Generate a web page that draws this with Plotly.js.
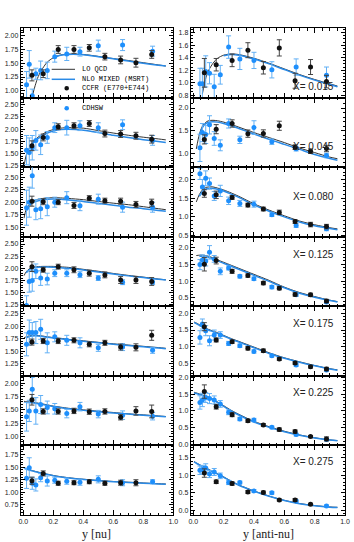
<!DOCTYPE html>
<html>
<head>
<meta charset="utf-8">
<script src="https://cdn.plot.ly/plotly-3.0.1.min.js"></script>
<style>
  html, body { margin: 0; padding: 0; background: #fff; }
  #chart { width: 354px; height: 542px; }
</style>
</head>
<body>
<div id="chart"></div>
<script>
    // x bins (one row of panels each)
    var xBins = ['0.015', '0.045', '0.080', '0.125', '0.175', '0.225', '0.275'];

    // y positions of the points
    var yNuCcfr = [0.058, 0.133, 0.233, 0.338, 0.44, 0.544, 0.649, 0.751, 0.856];
    var yNuCdhsw = [0.022, 0.04, 0.06, 0.084, 0.116, 0.16, 0.21, 0.29, 0.378, 0.5, 0.662, 0.862];
    var yAnuCcfr = [0.073, 0.151, 0.256, 0.36, 0.462, 0.567, 0.671, 0.773, 0.878];
    var yAnuCdhsw = [0.044, 0.06, 0.082, 0.107, 0.138, 0.178, 0.233, 0.307, 0.4, 0.518, 0.678, 0.878];
    var yCurve = [0.005, 0.02, 0.04, 0.06, 0.08, 0.1, 0.13, 0.16, 0.2, 0.25, 0.3, 0.4, 0.5, 0.6, 0.7, 0.8, 0.9, 0.95];

    // neutrino (left column)
    var nuCcfr1 = [1.28, 1.31, 1.75, 1.75, 1.78, 1.62, 1.56, 1.51, 1.66];
    var nuCcfrErr1 = [0.1, 0.07, 0.07, 0.07, 0.06, 0.06, 0.07, 0.08, 0.07];
    var nuCdhsw1 = [1.11, 1.48, 0.91, 1.31, 1.37, 1.37, 1.62, 1.67, 1.71, 1.82, 1.83, 1.72];
    var nuCdhswErr1 = [0.24, 0.25, 0.12, 0.1, 0.17, 0.15, 0.1, 0.12, 0.08, 0.1, 0.1, 0.09];
    var nuLo1 = [null, null, null, 0.9, 1.1, 1.26, 1.41, 1.52, 1.6, 1.65, 1.665, 1.66, 1.625, 1.585, 1.55, 1.51, 1.47, 1.45];
    var nuNlo1 = [null, null, null, null, null, null, null, null, 1.6, 1.645, 1.66, 1.655, 1.62, 1.58, 1.54, 1.5, 1.465, 1.45];

    var nuCcfr2 = [1.66, 1.83, 2.05, 2.07, 2.115, 1.91, 1.9, 1.865, 1.795];
    var nuCcfrErr2 = [0.1, 0.07, 0.06, 0.06, 0.06, 0.07, 0.07, 0.07, 0.08];
    var nuCdhsw2 = [1.57, 1.52, 1.62, 1.77, 1.68, 1.83, 2.03, 2.03, 2.07, 2.03, 2.09, 1.77];
    var nuCdhswErr2 = [0.3, 0.3, 0.25, 0.2, 0.2, 0.12, 0.1, 0.15, 0.1, 0.1, 0.1, 0.1];
    var nuLo2 = [1.25, 1.47, 1.61, 1.71, 1.78, 1.84, 1.9, 1.95, 1.99, 2.02, 2.03, 2.02, 1.97, 1.92, 1.875, 1.835, 1.8, 1.78];
    var nuNlo2 = [null, null, 1.6, 1.69, 1.76, 1.81, 1.87, 1.92, 1.96, 1.99, 1.995, 1.975, 1.93, 1.875, 1.83, 1.785, 1.745, 1.725];

    var nuCcfr3 = [2.02, 2.01, 2.0, 1.935, 2.08, 2.03, 2.02, 1.955, 1.99];
    var nuCcfrErr3 = [0.1, 0.06, 0.05, 0.06, 0.05, 0.05, 0.06, 0.06, 0.07];
    var nuCdhsw3 = [1.89, 2.0, 2.53, 1.85, 1.87, 1.91, 2.0, 2.09, 1.93, 2.06, 1.9, 1.9];
    var nuCdhswErr3 = [0.35, 0.3, 0.25, 0.2, 0.2, 0.18, 0.1, 0.12, 0.1, 0.1, 0.1, 0.1];
    var nuLo3 = [1.68, 1.86, 1.95, 2.0, 2.04, 2.06, 2.075, 2.085, 2.09, 2.085, 2.075, 2.05, 2.015, 1.98, 1.95, 1.91, 1.87, 1.85];
    var nuNlo3 = [null, 1.82, 1.92, 1.98, 2.01, 2.03, 2.05, 2.06, 2.065, 2.06, 2.045, 2.015, 1.975, 1.94, 1.9, 1.87, 1.835, 1.82];

    var nuCcfr4 = [2.035, 1.97, 2.035, 1.97, 1.9, 1.865, 1.76, 1.76, 1.73];
    var nuCcfrErr4 = [0.1, 0.05, 0.05, 0.06, 0.06, 0.06, 0.07, 0.07, 0.08];
    var nuCdhsw4 = [1.236, 1.73, 1.75, 1.94, 1.8, 1.78, 1.9, 1.9, 1.87, 1.8, 1.715, 1.72];
    var nuCdhswErr4 = [0.2, 0.22, 0.22, 0.15, 0.15, 0.12, 0.07, 0.07, 0.06, 0.05, 0.05, 0.05];
    var nuLo4 = [1.85, 1.93, 1.99, 2.02, 2.03, 2.035, 2.04, 2.04, 2.04, 2.03, 2.02, 1.98, 1.94, 1.895, 1.855, 1.82, 1.78, 1.765];
    var nuNlo4 = [null, 1.91, 1.97, 2.0, 2.015, 2.02, 2.025, 2.025, 2.02, 2.01, 2.0, 1.965, 1.925, 1.885, 1.845, 1.81, 1.775, 1.76];

    var nuCcfr5 = [1.685, 1.705, 1.705, 1.72, 1.64, 1.67, 1.585, 1.58, 1.82];
    var nuCcfrErr5 = [0.06, 0.05, 0.05, 0.05, 0.05, 0.05, 0.06, 0.07, 0.1];
    var nuCdhsw5 = [1.64, 1.875, 1.875, 1.875, 1.94, 1.67, 1.79, 1.72, 1.67, 1.57, 1.585, 1.52];
    var nuCdhswErr5 = [0.23, 0.25, 0.2, 0.22, 0.2, 0.2, 0.1, 0.1, 0.1, 0.07, 0.07, 0.06];
    var nuLo5 = [1.77, 1.79, 1.81, 1.82, 1.82, 1.815, 1.805, 1.79, 1.775, 1.76, 1.74, 1.71, 1.68, 1.65, 1.625, 1.6, 1.575, 1.56];
    var nuNlo5 = [null, 1.77, 1.795, 1.805, 1.81, 1.805, 1.795, 1.78, 1.765, 1.75, 1.73, 1.7, 1.67, 1.64, 1.615, 1.59, 1.565, 1.55];

    var nuCcfr6 = [1.69, 1.47, 1.47, 1.48, 1.465, 1.47, 1.36, 1.48, 1.47];
    var nuCcfrErr6 = [0.1, 0.05, 0.05, 0.05, 0.05, 0.05, 0.05, 0.08, 0.12];
    var nuCdhsw6 = [1.37, 1.48, 1.89, 1.48, 1.6, 1.545, 1.52, 1.43, 1.56, 1.42, 1.4, 1.38];
    var nuCdhswErr6 = [0.27, 0.2, 0.22, 0.25, 0.17, 0.12, 0.1, 0.08, 0.08, 0.07, 0.08, 0.07];
    var nuLo6 = [1.66, 1.655, 1.65, 1.645, 1.635, 1.625, 1.61, 1.595, 1.57, 1.55, 1.53, 1.5, 1.475, 1.45, 1.425, 1.405, 1.385, 1.375];
    var nuNlo6 = [null, 1.64, 1.64, 1.635, 1.625, 1.615, 1.6, 1.585, 1.565, 1.54, 1.52, 1.49, 1.465, 1.44, 1.42, 1.4, 1.38, 1.37];

    var nuCcfr7 = [1.23, 1.375, 1.18, 1.19, 1.21, 1.18, 1.19, 1.19, null];
    var nuCcfrErr7 = [0.07, 0.05, 0.04, 0.04, 0.04, 0.04, 0.05, 0.06, 0];
    var nuCdhsw7 = [1.277, 1.485, 1.18, 1.146, 1.29, 1.224, 1.24, 1.22, 1.2, 1.257, 1.19, 1.21];
    var nuCdhswErr7 = [0.2, 0.2, 0.12, 0.12, 0.08, 0.1, 0.06, 0.06, 0.06, 0.07, 0.06, 0.04];
    var nuLo7 = [1.49, 1.47, 1.45, 1.43, 1.415, 1.4, 1.38, 1.36, 1.335, 1.31, 1.29, 1.26, 1.235, 1.215, 1.2, 1.185, 1.17, 1.165];
    var nuNlo7 = [1.48, 1.46, 1.44, 1.425, 1.41, 1.395, 1.375, 1.355, 1.33, 1.305, 1.285, 1.255, 1.23, 1.21, 1.195, 1.18, 1.165, 1.16];

    // anti-neutrino (right column)
    var anuCcfr1 = [1.157, 1.287, 1.356, 1.52, 1.238, 1.557, 1.03, 1.25, 1.016];
    var anuCcfrErr1 = [0.23, 0.1, 0.1, 0.12, 0.1, 0.13, 0.12, 0.12, 0.1];
    var anuCdhsw1 = [0.98, 0.98, 1.18, 1.15, 0.933, 1.126, 1.57, 1.38, 1.356, 1.205, 1.25, 1.12];
    var anuCdhswErr1 = [0.25, 0.25, 0.25, 0.17, 0.2, 0.15, 0.18, 0.17, 0.13, 0.13, 0.13, 0.13];
    var anuLo1 = [null, null, null, 0.82, 1.05, 1.19, 1.31, 1.39, 1.44, 1.46, 1.45, 1.39, 1.31, 1.22, 1.13, 1.05, 0.98, 0.945];
    var anuNlo1 = [null, null, null, null, null, null, null, null, 1.43, 1.45, 1.44, 1.38, 1.3, 1.21, 1.12, 1.04, 0.97, 0.935];

    var anuCcfr2 = [1.31, 1.535, 1.66, 1.437, 1.44, 1.61, 1.14, 1.05, 1.11];
    var anuCcfrErr2 = [0.1, 0.1, 0.08, 0.08, 0.08, 0.1, 0.05, 0.05, 0.07];
    var anuCdhsw2 = [1.125, 1.46, 1.42, 1.63, 1.33, 1.18, 1.66, 1.3, 1.57, 1.26, 1.105, 0.956];
    var anuCdhswErr2 = [0.3, 0.2, 0.2, 0.2, 0.15, 0.12, 0.1, 0.08, 0.15, 0.06, 0.05, 0.05];
    var anuLo2 = [null, 1.1, 1.42, 1.6, 1.68, 1.72, 1.73, 1.72, 1.69, 1.64, 1.58, 1.46, 1.35, 1.24, 1.12, 1.02, 0.92, 0.885];
    var anuNlo2 = [null, null, 1.4, 1.57, 1.65, 1.69, 1.7, 1.69, 1.66, 1.61, 1.55, 1.43, 1.31, 1.2, 1.09, 0.98, 0.89, 0.85];

    var anuCcfr3 = [1.625, 1.59, 1.52, 1.315, 1.21, 1.12, 0.875, 0.795, 0.74];
    var anuCcfrErr3 = [0.1, 0.1, 0.05, 0.05, 0.05, 0.06, 0.05, 0.06, 0.06];
    var anuCdhsw3 = [2.15, 1.8, 2.03, 1.89, 1.56, 1.695, 1.43, 1.36, 1.34, 1.06, 0.77, 0.68];
    var anuCdhswErr3 = [0.15, 0.2, 0.2, 0.15, 0.12, 0.15, 0.1, 0.08, 0.08, 0.05, 0.05, 0.05];
    var anuLo3 = [null, 1.4, 1.6, 1.72, 1.78, 1.8, 1.8, 1.77, 1.72, 1.64, 1.55, 1.35, 1.18, 1.03, 0.89, 0.79, 0.71, 0.68];
    var anuNlo3 = [null, null, 1.55, 1.68, 1.74, 1.76, 1.76, 1.74, 1.69, 1.61, 1.52, 1.32, 1.15, 1.0, 0.865, 0.765, 0.69, 0.655];

    var anuCcfr4 = [1.5, 1.61, 1.29, 1.165, 0.94, 0.79, 0.604, 0.59, 0.406];
    var anuCcfrErr4 = [0.2, 0.1, 0.06, 0.05, 0.05, 0.05, 0.05, 0.05, 0.05];
    var anuCdhsw4 = [1.49, 1.63, 1.6, 1.855, 1.66, 1.29, 1.39, 1.14, 1.07, 0.82, 0.595, 0.376];
    var anuCdhswErr4 = [0.15, 0.15, 0.15, 0.2, 0.1, 0.1, 0.06, 0.05, 0.05, 0.05, 0.05, 0.04];
    var anuLo4 = [null, 1.76, 1.77, 1.77, 1.76, 1.74, 1.69, 1.63, 1.56, 1.47, 1.38, 1.2, 1.02, 0.82, 0.66, 0.54, 0.43, 0.39];
    var anuNlo4 = [null, null, 1.74, 1.74, 1.73, 1.71, 1.66, 1.6, 1.53, 1.44, 1.35, 1.17, 0.99, 0.8, 0.64, 0.52, 0.42, 0.38];

    var anuCcfr5 = [1.6, 1.204, 1.153, 0.953, 0.883, 0.635, 0.515, 0.405, 0.335];
    var anuCcfrErr5 = [0.12, 0.06, 0.05, 0.05, 0.05, 0.04, 0.04, 0.04, 0.05];
    var anuCdhsw5 = [1.28, 1.68, 1.48, 1.18, 1.35, 1.35, 1.1, 1.03, 0.86, 0.735, 0.455, 0.306];
    var anuCdhswErr5 = [0.2, 0.15, 0.15, 0.15, 0.15, 0.1, 0.06, 0.05, 0.05, 0.04, 0.04, 0.04];
    var anuLo5 = [1.74, 1.71, 1.66, 1.61, 1.56, 1.52, 1.47, 1.42, 1.34, 1.245, 1.16, 0.99, 0.82, 0.67, 0.55, 0.44, 0.345, 0.31];
    var anuNlo5 = [1.72, 1.69, 1.64, 1.59, 1.545, 1.5, 1.45, 1.4, 1.32, 1.225, 1.14, 0.97, 0.8, 0.655, 0.535, 0.43, 0.335, 0.3];

    var anuCcfr6 = [1.58, 1.127, 0.89, 0.71, 0.583, 0.443, 0.383, 0.235, 0.166];
    var anuCcfrErr6 = [0.2, 0.07, 0.06, 0.05, 0.04, 0.05, 0.05, 0.03, 0.06];
    var anuCdhsw6 = [1.255, 1.33, 1.405, 1.37, 1.33, 1.21, 0.96, 0.76, 0.73, 0.51, 0.294, 0.15];
    var anuCdhswErr6 = [0.2, 0.2, 0.15, 0.15, 0.12, 0.1, 0.07, 0.05, 0.05, 0.04, 0.04, 0.04];
    var anuLo6 = [1.56, 1.54, 1.51, 1.48, 1.45, 1.42, 1.35, 1.27, 1.16, 1.02, 0.9, 0.69, 0.53, 0.395, 0.285, 0.2, 0.135, 0.115];
    var anuNlo6 = [1.54, 1.52, 1.49, 1.46, 1.43, 1.4, 1.33, 1.25, 1.14, 1.0, 0.88, 0.67, 0.51, 0.38, 0.275, 0.19, 0.13, 0.11];

    var anuCcfr7 = [1.06, 0.81, 0.76, 0.52, 0.505, 0.29, 0.29, 0.165, null];
    var anuCcfrErr7 = [0.12, 0.05, 0.05, 0.04, 0.04, 0.03, 0.04, 0.03, 0];
    var anuCdhsw7 = [1.14, 1.16, 1.205, 1.03, 1.09, 0.98, 0.79, 0.79, 0.55, 0.495, 0.26, 0.117];
    var anuCdhswErr7 = [0.12, 0.12, 0.12, 0.1, 0.1, 0.08, 0.06, 0.04, 0.04, 0.04, 0.03, 0.03];
    var anuLo7 = [1.39, 1.35, 1.3, 1.26, 1.22, 1.17, 1.1, 1.04, 0.95, 0.83, 0.72, 0.55, 0.4, 0.28, 0.19, 0.13, 0.09, 0.08];
    var anuNlo7 = [1.38, 1.34, 1.29, 1.25, 1.21, 1.16, 1.09, 1.03, 0.94, 0.82, 0.71, 0.54, 0.395, 0.275, 0.185, 0.125, 0.085, 0.075];

    var panels = [
        [{ccfr: nuCcfr1, ccfrErr: nuCcfrErr1, cdhsw: nuCdhsw1, cdhswErr: nuCdhswErr1, lo: nuLo1, nlo: nuNlo1},
         {ccfr: anuCcfr1, ccfrErr: anuCcfrErr1, cdhsw: anuCdhsw1, cdhswErr: anuCdhswErr1, lo: anuLo1, nlo: anuNlo1}],
        [{ccfr: nuCcfr2, ccfrErr: nuCcfrErr2, cdhsw: nuCdhsw2, cdhswErr: nuCdhswErr2, lo: nuLo2, nlo: nuNlo2},
         {ccfr: anuCcfr2, ccfrErr: anuCcfrErr2, cdhsw: anuCdhsw2, cdhswErr: anuCdhswErr2, lo: anuLo2, nlo: anuNlo2}],
        [{ccfr: nuCcfr3, ccfrErr: nuCcfrErr3, cdhsw: nuCdhsw3, cdhswErr: nuCdhswErr3, lo: nuLo3, nlo: nuNlo3},
         {ccfr: anuCcfr3, ccfrErr: anuCcfrErr3, cdhsw: anuCdhsw3, cdhswErr: anuCdhswErr3, lo: anuLo3, nlo: anuNlo3}],
        [{ccfr: nuCcfr4, ccfrErr: nuCcfrErr4, cdhsw: nuCdhsw4, cdhswErr: nuCdhswErr4, lo: nuLo4, nlo: nuNlo4},
         {ccfr: anuCcfr4, ccfrErr: anuCcfrErr4, cdhsw: anuCdhsw4, cdhswErr: anuCdhswErr4, lo: anuLo4, nlo: anuNlo4}],
        [{ccfr: nuCcfr5, ccfrErr: nuCcfrErr5, cdhsw: nuCdhsw5, cdhswErr: nuCdhswErr5, lo: nuLo5, nlo: nuNlo5},
         {ccfr: anuCcfr5, ccfrErr: anuCcfrErr5, cdhsw: anuCdhsw5, cdhswErr: anuCdhswErr5, lo: anuLo5, nlo: anuNlo5}],
        [{ccfr: nuCcfr6, ccfrErr: nuCcfrErr6, cdhsw: nuCdhsw6, cdhswErr: nuCdhswErr6, lo: nuLo6, nlo: nuNlo6},
         {ccfr: anuCcfr6, ccfrErr: anuCcfrErr6, cdhsw: anuCdhsw6, cdhswErr: anuCdhswErr6, lo: anuLo6, nlo: anuNlo6}],
        [{ccfr: nuCcfr7, ccfrErr: nuCcfrErr7, cdhsw: nuCdhsw7, cdhswErr: nuCdhswErr7, lo: nuLo7, nlo: nuNlo7},
         {ccfr: anuCcfr7, ccfrErr: anuCcfrErr7, cdhsw: anuCdhsw7, cdhswErr: anuCdhswErr7, lo: anuLo7, nlo: anuNlo7}]
    ];

    // axis ranges per row: [left, right]
    var yRanges = [
        [[0.877, 2.14], [0.76, 1.876]],
        [[1.223, 2.645], [0.70, 2.23]],
        [[1.31, 2.70], [0.47, 2.33]],
        [[1.22, 2.65], [0.25, 2.32]],
        [[1.01, 2.40], [0.13, 2.21]],
        [[0.83, 2.14], [-0.03, 2.05]],
        [[0.55, 1.93], [-0.14, 1.85]]
    ];

    var W = 354, H = 542;
    var colPx = [[20.7, 173.3], [190.7, 345]];
    var topPx = 28, botPx = 515, rowH = (botPx - topPx) / 7;
    var black = '#111111', blue = '#1e8ffc', blueErr = '#62b0f5', nloBlue = '#2a8ae6';
    var tickFont = {family: 'Liberation Sans, Arial, sans-serif', size: 7, color: '#222'};

    var data = [];
    var layout = {
        width: W, height: H,
        margin: {l: 0, r: 0, t: 0, b: 0},
        paper_bgcolor: '#fff', plot_bgcolor: '#fff',
        showlegend: false,
        annotations: [], shapes: []
    };

    for (var r = 0; r < 7; r++) {
        for (var c = 0; c < 2; c++) {
            var idx = r * 2 + c + 1;
            var xa = idx === 1 ? 'x' : 'x' + idx;
            var ya = idx === 1 ? 'y' : 'y' + idx;
            var p = panels[r][c];
            var xsC = c === 0 ? yNuCcfr : yAnuCcfr;
            var xsD = c === 0 ? yNuCdhsw : yAnuCdhsw;

            data.push({x: yCurve, y: p.lo, xaxis: xa, yaxis: ya, mode: 'lines', hoverinfo: 'skip',
                line: {color: '#333', width: 1, shape: 'spline', smoothing: 0.8}});
            data.push({x: yCurve, y: p.nlo, xaxis: xa, yaxis: ya, mode: 'lines', hoverinfo: 'skip',
                line: {color: nloBlue, width: 1.5, shape: 'spline', smoothing: 0.8}});
            data.push({x: xsD, y: p.cdhsw, xaxis: xa, yaxis: ya, mode: 'markers', type: 'scatter',
                marker: {color: blue, size: 5},
                error_y: {type: 'data', array: p.cdhswErr, visible: true, color: blueErr, thickness: 1, width: 2.5}});
            data.push({x: xsC, y: p.ccfr, xaxis: xa, yaxis: ya, mode: 'markers', type: 'scatter',
                marker: {color: black, size: 5},
                error_y: {type: 'data', array: p.ccfrErr, visible: true, color: '#444', thickness: 1, width: 2.5}});

            var t = topPx + r * rowH;
            var xKey = idx === 1 ? 'xaxis' : 'xaxis' + idx;
            var yKey = idx === 1 ? 'yaxis' : 'yaxis' + idx;
            layout[xKey] = {
                domain: [colPx[c][0] / W, colPx[c][1] / W], anchor: ya,
                range: [-0.017, 1.0], dtick: 0.2, tick0: 0, tickformat: '.1f',
                showticklabels: r === 6, tickfont: tickFont,
                showline: true, linecolor: '#000', linewidth: 1, mirror: 'allticks',
                ticks: 'inside', ticklen: 5, tickcolor: '#000', tickwidth: 1,
                minor: {dtick: 0.05, ticks: 'inside', ticklen: 2.5, tickcolor: '#000', showgrid: false},
                showgrid: false, zeroline: false, fixedrange: true
            };
            var yDt = c === 0 ? 0.25 : (r === 0 ? 0.2 : 0.5);
            var yMinor = c === 0 ? 0.05 : (r === 0 ? 0.05 : 0.1);
            layout[yKey] = {
                domain: [1 - (t + rowH) / H, 1 - t / H], anchor: xa,
                range: yRanges[r][c], dtick: yDt, tick0: 0,
                tickformat: c === 0 ? '.2f' : '.1f', tickfont: tickFont,
                showline: true, linecolor: '#000', linewidth: 1, mirror: 'allticks',
                ticks: 'inside', ticklen: 4, tickcolor: '#000', tickwidth: 1,
                minor: {dtick: yMinor, ticks: 'inside', ticklen: 2, tickcolor: '#000', showgrid: false},
                showgrid: false, zeroline: false, fixedrange: true
            };
        }
    }

    // X bin labels in the right column
    var binLabelY = [87, 146.7, 196.7, 255, 323, 392.7, 461.7];
    xBins.forEach(function (b, i) {
        layout.annotations.push({
            xref: 'paper', yref: 'paper', x: 336 / W, y: 1 - binLabelY[i] / H,
            xanchor: 'right', yanchor: 'middle', showarrow: false,
            text: 'X= ' + b, font: {family: 'Liberation Sans, Arial, sans-serif', size: 10, color: '#222'}
        });
    });

    // hand-made key in the first panels
    var legendFont = {family: 'Liberation Mono, Courier New, monospace', size: 7, color: '#000'};
    var keyRows = [
        {y: 69.3, text: 'LO QCD', kind: 'line', color: '#333'},
        {y: 79.3, text: 'NLO MIXED (MSRT)', kind: 'line', color: nloBlue},
        {y: 88.3, text: 'CCFR (E770+E744)', kind: 'dot', color: black},
        {y: 108.3, text: 'CDHSW', kind: 'dot', color: blue}
    ];
    keyRows.forEach(function (k) {
        var yp = 1 - k.y / H;
        if (k.kind === 'line') {
            layout.shapes.push({type: 'line', xref: 'paper', yref: 'paper',
                x0: 51.7 / W, x1: 75 / W, y0: yp, y1: yp,
                line: {color: k.color, width: k.color === '#333' ? 1 : 1.5}});
        } else {
            layout.shapes.push({type: 'circle', xref: 'paper', yref: 'paper',
                x0: 64.4 / W, x1: 69 / W, y0: yp - 2.3 / H, y1: yp + 2.3 / H,
                fillcolor: k.color, line: {color: k.color, width: 0}});
        }
        layout.annotations.push({xref: 'paper', yref: 'paper', x: 80 / W, y: yp,
            xanchor: 'left', yanchor: 'middle', showarrow: false, text: k.text, font: legendFont});
    });

    // axis titles
    var axisFont = {family: 'Liberation Serif, Times New Roman, serif', size: 12, color: '#222'};
    layout.annotations.push({xref: 'paper', yref: 'paper', x: 97 / W, y: 1 - 534 / H,
        xanchor: 'center', yanchor: 'middle', showarrow: false, text: 'y [nu]', font: axisFont});
    layout.annotations.push({xref: 'paper', yref: 'paper', x: 268 / W, y: 1 - 534 / H,
        xanchor: 'center', yanchor: 'middle', showarrow: false, text: 'y [anti-nu]', font: axisFont});

    Plotly.newPlot('chart', data, layout, {displayModeBar: false, staticPlot: true});
</script>
</body>
</html>
